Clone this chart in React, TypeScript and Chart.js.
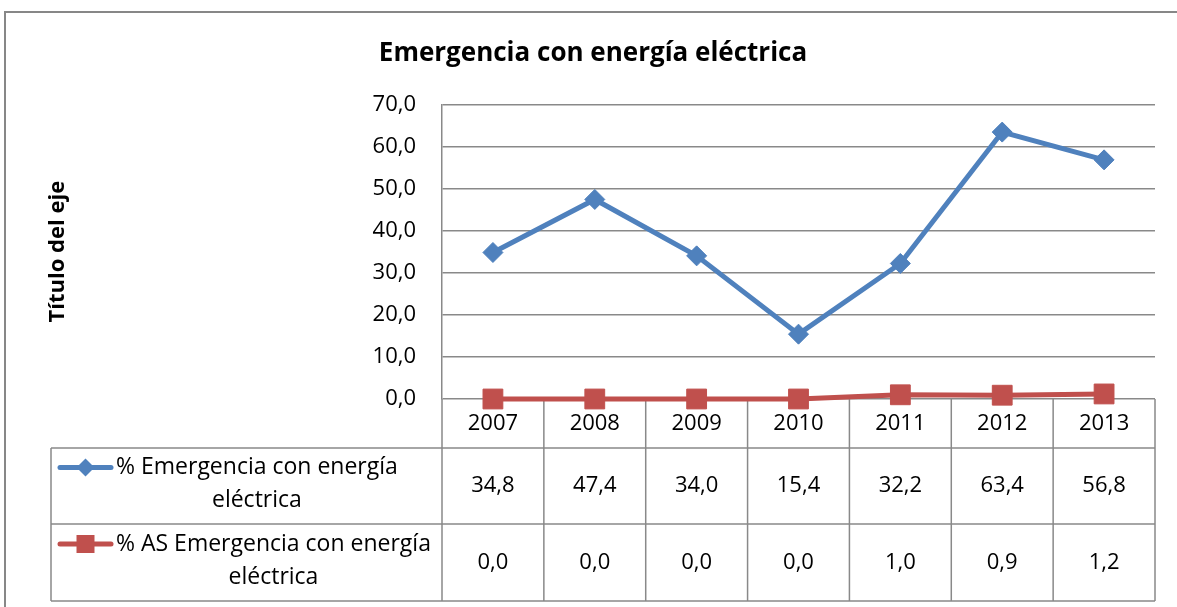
import React, { useEffect, useRef } from 'react';
import { Chart, registerables } from 'chart.js';

Chart.register(...registerables);

const categories = ['2007', '2008', '2009', '2010', '2011', '2012', '2013'];
const seriesNames = ['% Emergencia con energía eléctrica', '% AS Emergencia con energía eléctrica'];
const emergencia = [34.8, 47.4, 34.0, 15.4, 32.2, 63.4, 56.8];
const asEmergencia = [0.0, 0.0, 0.0, 0.0, 1.0, 0.9, 1.2];
const yTicks = [0, 10, 20, 30, 40, 50, 60, 70];
const chartTitle = 'Emergencia con energía eléctrica';
const yAxisTitle = 'Título del eje';
const seriesColors = ['#4F81BD', '#C0504D'];
const seriesMarkers = ['rectRot', 'rect'];

const FONT = '"Open Sans", "DejaVu Sans", sans-serif';
const GRID = '#898989';
const fmt = (v: number) => v.toFixed(1).replace('.', ',');

function wrapText(ctx: CanvasRenderingContext2D, text: string, maxW: number): string[] {
  const words = text.split(' ');
  const lines: string[] = [];
  let cur = '';
  for (const w of words) {
    const test = cur ? cur + ' ' + w : w;
    if (cur && ctx.measureText(test).width > maxW) {
      lines.push(cur);
      cur = w;
    } else cur = test;
  }
  if (cur) lines.push(cur);
  return lines;
}

function drawMarker(ctx: CanvasRenderingContext2D, kind: string, x: number, y: number, r: number, color: string) {
  ctx.fillStyle = color;
  ctx.beginPath();
  if (kind === 'rectRot') {
    ctx.moveTo(x - r, y);
    ctx.lineTo(x, y - r);
    ctx.lineTo(x + r, y);
    ctx.lineTo(x, y + r);
    ctx.closePath();
  } else {
    ctx.rect(x - r, y - r, 2 * r, 2 * r);
  }
  ctx.fill();
}

const tablePlugin = {
  id: 'dataTable',
  beforeDraw(chart: any) {
    const ctx = chart.ctx as CanvasRenderingContext2D;
    ctx.save();
    ctx.fillStyle = '#ffffff';
    ctx.fillRect(0, 0, chart.width, chart.height);
    ctx.strokeStyle = '#878787';
    ctx.lineWidth = 2;
    ctx.strokeRect(5, 12, chart.width + 50, chart.height + 50);
    ctx.restore();
  },
  beforeDatasetsDraw(chart: any) {
    const ctx = chart.ctx as CanvasRenderingContext2D;
    const { left, right, bottom } = chart.chartArea;
    const xs = chart.scales.x;
    const rowH = [49, 76, 77];
    const tableLeft = 51;
    const y0 = bottom;
    const y1 = y0 + rowH[0];
    const y2 = y1 + rowH[1];
    const y3 = y2 + rowH[2];
    const centers = categories.map((_, i) => xs.getPixelForValue(i));
    const edges = [left];
    for (let i = 0; i < centers.length - 1; i++) edges.push((centers[i] + centers[i + 1]) / 2);
    edges.push(right);

    ctx.save();
    ctx.strokeStyle = GRID;
    ctx.lineWidth = 1.5;
    ctx.beginPath();
    edges.forEach((e) => {
      ctx.moveTo(e, y0);
      ctx.lineTo(e, y3);
    });
    [y1, y2, y3].forEach((y) => {
      ctx.moveTo(tableLeft, y);
      ctx.lineTo(right, y);
    });
    ctx.moveTo(tableLeft, y1);
    ctx.lineTo(tableLeft, y3);
    ctx.stroke();

    ctx.fillStyle = '#000';
    ctx.font = `22px ${FONT}`;
    ctx.textAlign = 'center';
    ctx.textBaseline = 'middle';
    categories.forEach((c, i) => ctx.fillText(c, centers[i], (y0 + y1) / 2));
    const series = [emergencia, asEmergencia];
    const rows = [[y1, y2], [y2, y3]];
    series.forEach((vals, s) => {
      const cy = (rows[s][0] + rows[s][1]) / 2;
      ctx.fillStyle = '#000';
      ctx.font = `22px ${FONT}`;
      vals.forEach((v, i) => ctx.fillText(fmt(v), centers[i], cy));
      // legend cell
      ctx.font = `23px ${FONT}`;
      const lines = wrapText(ctx, seriesNames[s], 322);
      const maxW = Math.max(...lines.map((l) => ctx.measureText(l).width));
      const textX = 116;
      const lineGap = 33;
      const firstY = cy - ((lines.length - 1) * lineGap) / 2 - 2;
      lines.forEach((l, k) => ctx.fillText(l, textX + maxW / 2, firstY + k * lineGap));
      ctx.strokeStyle = seriesColors[s];
      ctx.lineWidth = 5;
      ctx.lineCap = 'round';
      ctx.beginPath();
      ctx.moveTo(60, firstY);
      ctx.lineTo(111, firstY);
      ctx.stroke();
      drawMarker(ctx, seriesMarkers[s], 85.5, firstY, 9, seriesColors[s]);
    });
    ctx.restore();
  },
};

export default function App() {
  const ref = useRef<HTMLCanvasElement>(null);
  useEffect(() => {
    if (!ref.current) return;
    const chart = new Chart(ref.current, {
      type: 'line',
      data: {
        labels: categories,
        datasets: [
          {
            label: seriesNames[0],
            data: emergencia,
            borderColor: seriesColors[0],
            backgroundColor: seriesColors[0],
            borderWidth: 5,
            pointStyle: 'rectRot',
            pointRadius: 10,
            pointBorderWidth: 1,
            pointBackgroundColor: seriesColors[0],
            pointBorderColor: seriesColors[0],
            tension: 0,
            clip: false,
          },
          {
            label: seriesNames[1],
            data: asEmergencia,
            borderColor: seriesColors[1],
            backgroundColor: seriesColors[1],
            borderWidth: 5,
            pointStyle: 'rect',
            pointRadius: 14,
            pointBorderWidth: 1,
            pointBackgroundColor: seriesColors[1],
            pointBorderColor: seriesColors[1],
            tension: 0,
            clip: false,
          },
        ],
      },
      options: {
        animation: false,
        responsive: false,
        devicePixelRatio: 1,
        events: [],
        layout: { padding: { left: 31, right: 22, top: 0, bottom: 0 } },
        plugins: {
          legend: { display: false },
          tooltip: { enabled: false },
          title: {
            display: true,
            text: chartTitle,
            color: '#000',
            font: { family: FONT, size: 26, weight: 'bold', lineHeight: 1.2 },
            padding: { top: 38.4, bottom: 34.7 },
          },
        },
        scales: {
          x: {
            type: 'category',
            offset: true,
            grid: { display: false },
            border: { display: false },
            ticks: { display: false },
            afterFit: (scale: any) => {
              scale.height = 208;
            },
          },
          y: {
            min: yTicks[0],
            max: yTicks[yTicks.length - 1],
            afterBuildTicks: (scale: any) => {
              scale.ticks = yTicks.map((v) => ({ value: v }));
            },
            afterFit: (scale: any) => {
              scale.width = 411;
            },
            grid: { color: GRID, lineWidth: 1.5, drawTicks: false },
            border: { display: true, color: GRID, width: 1.5 },
            ticks: {
              color: '#000',
              padding: 26,
              font: { family: FONT, size: 22 },
              callback: (v: any) => fmt(Number(v)),
            },
            title: {
              display: true,
              text: yAxisTitle,
              color: '#000',
              font: { family: FONT, size: 22, weight: 'bold' },
              padding: { top: 14, bottom: 0 },
            },
          },
        },
      },
      plugins: [tablePlugin],
    } as any);
    return () => chart.destroy();
  }, []);
  return (
    <div style={{ position: 'absolute', left: 0, top: 0, width: 1177, height: 607 }}>
      <canvas ref={ref} width={1177} height={607} />
    </div>
  );
}
